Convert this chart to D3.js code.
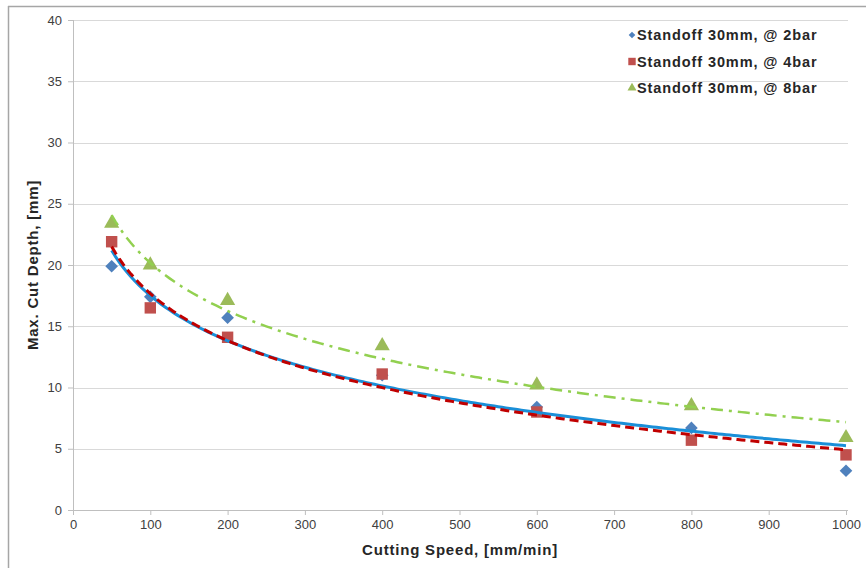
<!DOCTYPE html>
<html>
<head>
<meta charset="utf-8">
<script src="https://cdn.jsdelivr.net/npm/d3@7"></script>
<style>
  body { margin: 0; background: #fff; }
  svg { font-family: "Liberation Sans", Arial, sans-serif; }
</style>
</head>
<body>
<div id="vis"></div>
<script>
const W = 866, H = 568;
const margin = {top: 20, right: 20, bottom: 58, left: 73};
const width = 846 - margin.left;
const height = 510 - margin.top;

// data
const speeds = [50, 100, 200, 400, 600, 800, 1000];
const depth2bar = [19.9, 17.4, 15.7, 11.0, 8.4, 6.7, 3.2];
const depth4bar = [21.9, 16.5, 14.1, 11.1, 8.0, 5.7, 4.5];
const depth8bar = [23.4, 20.0, 17.1, 13.4, 10.2, 8.5, 5.9];
const seriesNames = ["Standoff 30mm, @ 2bar", "Standoff 30mm, @ 4bar", "Standoff 30mm, @ 8bar"];
const xTicks = [0, 100, 200, 300, 400, 500, 600, 700, 800, 900, 1000];
const yTicks = [0, 5, 10, 15, 20, 25, 30, 35, 40];

const markerColors = ["#4F81BD", "#C0504D", "#9BBB59"];
const lineColors = ["#1A8FD8", "#C00000", "#92D050"];
const lineDash = [null, "9,5", "12,6,3,6"];
const symbols = [d3.symbolSquare, d3.symbolSquare, d3.symbolTriangle];
const rotations = [45, 0, 0];

const series = [depth2bar, depth4bar, depth8bar].map((vals, i) => ({
  name: seriesNames[i],
  points: speeds.map((s, j) => ({x: s, y: vals[j]}))
}));

const svg = d3.select("#vis").append("svg")
  .attr("width", W).attr("height", H);

// outer chart border (top + left)
svg.append("line").attr("x1", 8).attr("x2", W).attr("y1", 6.5).attr("y2", 6.5)
  .attr("stroke", "#a6a6a6").attr("stroke-width", 1.5);
svg.append("line").attr("x1", 8.5).attr("x2", 8.5).attr("y1", 6).attr("y2", H)
  .attr("stroke", "#a6a6a6").attr("stroke-width", 1.5);

const g = svg.append("g").attr("transform", `translate(${margin.left},${margin.top})`);

const x = d3.scaleLinear().domain([0, 1000]).range([0, width]);
const y = d3.scaleLinear().domain([0, 40]).range([height, 0]);

// gridlines
g.append("g").selectAll("line").data(yTicks.filter(d => d > 0)).enter().append("line")
  .attr("x1", 0).attr("x2", width + 2)
  .attr("y1", d => Math.round(y(d)) + 0.5).attr("y2", d => Math.round(y(d)) + 0.5)
  .attr("stroke", "#d9d9d9");

// axes
const yAxis = g.append("g")
  .call(d3.axisLeft(y).tickValues(yTicks).tickSize(5).tickPadding(6));
const xAxis = g.append("g").attr("transform", `translate(0,${height})`)
  .call(d3.axisBottom(x).tickValues(xTicks).tickFormat(d3.format("d")).tickSize(5).tickPadding(5));
[xAxis, yAxis].forEach(a => {
  a.selectAll("path, line").attr("stroke", "#bfbfbf");
  a.selectAll("text").attr("font-size", 13).attr("fill", "#404040");
});
yAxis.select(".domain").attr("d", `M0.5,0V${height}`);
xAxis.select(".domain").attr("d", `M0,0.5H${width + 2}`);

// markers
series.forEach((s, i) => {
  g.append("g").selectAll("path").data(s.points).enter().append("path")
    .attr("transform", d => `translate(${x(d.x)},${y(d.y)}) rotate(${rotations[i]})`)
    .attr("d", d3.symbol().type(symbols[i]).size(i === 0 ? 80 : i === 1 ? 130 : 100))
    .attr("fill", markerColors[i]);
});

// logarithmic trendlines (least squares on ln x), like the spreadsheet fit
function logFit(points) {
  const lx = points.map(p => Math.log(p.x));
  const mx = d3.mean(lx), my = d3.mean(points, p => p.y);
  let sxy = 0, sxx = 0;
  points.forEach((p, k) => { sxy += (lx[k] - mx) * (p.y - my); sxx += (lx[k] - mx) ** 2; });
  const b = sxy / sxx, a = my - b * mx;
  return v => a + b * Math.log(v);
}
const trendX = d3.range(50, 1001, 5);
const line = d3.line().x(d => x(d[0])).y(d => y(d[1]));
series.forEach((s, i) => {
  const f = logFit(s.points);
  g.append("path")
    .datum(trendX.map(v => [v, f(v)]))
    .attr("d", line)
    .attr("fill", "none")
    .attr("stroke", lineColors[i])
    .attr("stroke-width", i === 2 ? 2.5 : 3)
    .attr("stroke-dasharray", lineDash[i]);
});

// legend
const legend = svg.append("g").attr("transform", "translate(632,35)");
seriesNames.forEach((name, i) => {
  const item = legend.append("g").attr("transform", `translate(0,${i * 26.5})`);
  item.append("path")
    .attr("transform", `rotate(${rotations[i]})`)
    .attr("d", d3.symbol().type(symbols[i]).size(i === 0 ? 22 : i === 1 ? 55 : 35))
    .attr("fill", markerColors[i]);
  item.append("text").attr("x", 5).attr("y", 5)
    .attr("font-size", 14.5).attr("font-weight", "bold").attr("letter-spacing", 0.9)
    .attr("fill", "#262626")
    .text(name);
});

// axis titles
svg.append("text")
  .attr("x", 460).attr("y", 555)
  .attr("text-anchor", "middle").attr("font-size", 15).attr("font-weight", "bold")
  .attr("letter-spacing", 0.8).attr("fill", "#262626")
  .text("Cutting Speed, [mm/min]");
svg.append("text")
  .attr("transform", "translate(38,265) rotate(-90)")
  .attr("text-anchor", "middle").attr("font-size", 15).attr("font-weight", "bold")
  .attr("letter-spacing", 0.8).attr("fill", "#262626")
  .text("Max. Cut Depth, [mm]");
</script>
</body>
</html>
